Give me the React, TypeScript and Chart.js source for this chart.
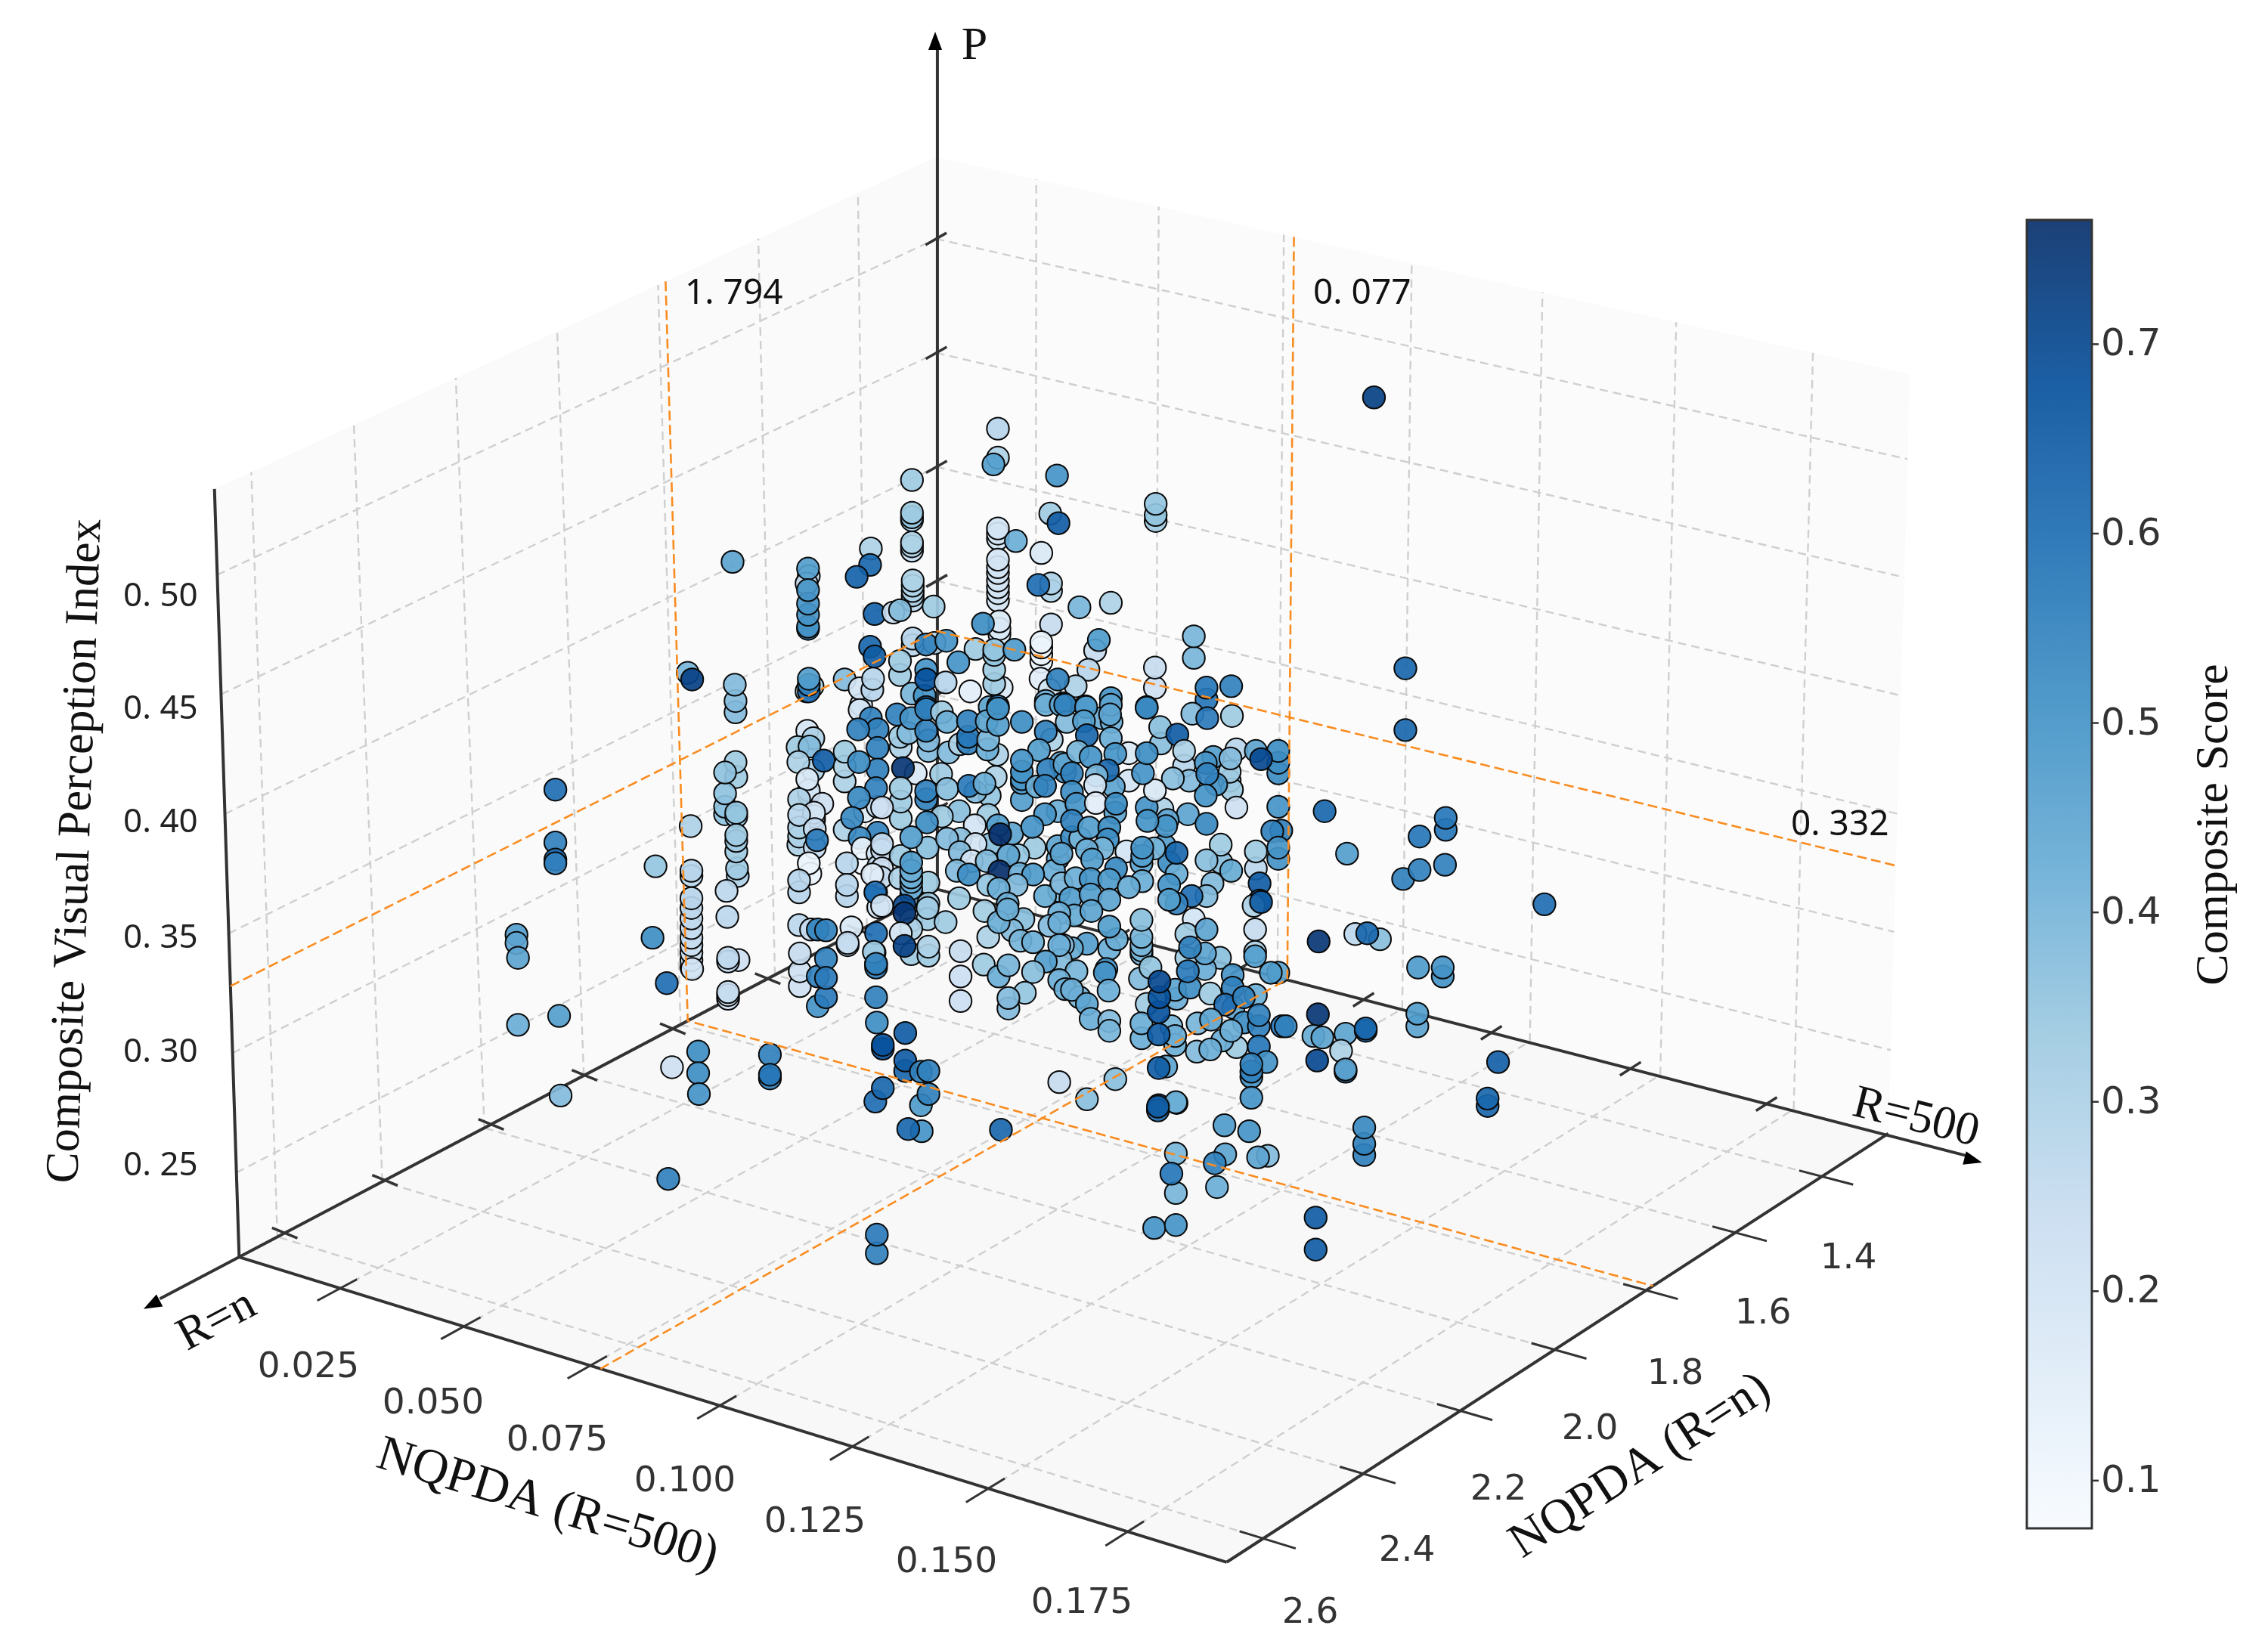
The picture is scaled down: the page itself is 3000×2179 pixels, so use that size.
import React, { useEffect, useRef } from "react";
import { Chart, registerables } from "chart.js";

Chart.register(...registerables);

// Tick values of the three data axes and of the colour bar
const xTicks = [0.025, 0.05, 0.075, 0.1, 0.125, 0.15, 0.175];
const yTicks = [1.4, 1.6, 1.8, 2.0, 2.2, 2.4, 2.6];
const zTicks = [0.25, 0.3, 0.35, 0.4, 0.45, 0.5];
const scoreTicks = [0.1, 0.2, 0.3, 0.4, 0.5, 0.6, 0.7];
const xRange = [0.0041, 0.1924];
const yRange = [1.243, 2.6716];
const zRange = [0.2147, 0.5359];
const scoreRange = [0.0748, 0.7656];
const medians = { x: 0.077, y: 1.785, z: 0.328 };

// Projected marks, [across, down, composite score] on the view plane of the 3D scene
const upperLeft: number[][] = [
  [726,1044,.6],[726,1115,.55],[726,1138,.6],[726,1143,.55],[674,1239,.47],[674,1250,.45],[676,1270,.45],[676,1360,.42],[731,1348,.47],[733,1455,.38],
  [860,1147,.35],[856,1243,.52],[963,738,.45],[903,887,.4],[909,896,.72],
  [1065,757,.25],[1062,767,.25],[1064,747,.47],[1064,828,.55],[1064,825,.5],[1064,809,.5],[1064,794,.5],[1064,776,.5],
  [967,940,.38],[967,925,.38],[966,903,.38],[1062,912,.3],[1070,905,.3],[1065,912,.6],[1065,903,.55],[1065,895,.47],[1113,896,.38],
  [1148,720,.3],[1147,742,.62],[1129,758,.63],[1153,808,.63],[1147,852,.62],[1153,865,.65],
  [1203,682,.33],[1203,678,.35],[1203,672,.33],[1203,628,.33],[1203,723,.25],[1203,717,.3],[1203,712,.3],
  [1204,790,.28],[1204,783,.3],[1204,777,.3],[1204,770,.3],[1204,763,.3],[1178,806,.25],[1187,803,.38],[1232,798,.33],
  [1204,850,.28],[1204,841,.28],[1233,847,.28],[1222,849,.55],[1249,844,.5],[1288,855,.33],[1265,873,.5],
  [1187,890,.33],[1187,871,.33],[1135,930,.2],[1133,908,.2],[1150,910,.28],[1151,895,.28],
  [1222,883,.5],[1203,915,.4],[1220,918,.5],[1222,896,.68],[1222,933,.65],[1248,900,.28],[1281,912,.15],
];
const upperMiddle: number[][] = [
  [1318,559,.28],[1318,598,.3],[1312,607,.47],[1397,622,.5],[1388,673,.33],[1399,686,.65],
  [1318,707,.2],[1318,700,.2],[1318,693,.2],[1342,710,.42],
  [1318,790,.2],[1318,780,.2],[1318,772,.2],[1318,763,.2],[1318,753,.2],[1318,745,.2],[1318,735,.2],
  [1376,726,.18],[1389,777,.3],[1389,767,.3],[1372,769,.6],[1427,799,.4],[1469,793,.3],[1389,822,.25],
  [1320,835,.18],[1320,828,.18],[1320,818,.18],[1298,821,.52],
  [1376,872,.12],[1376,862,.12],[1376,853,.12],[1376,846,.12],[1448,857,.25],[1453,843,.48],
  [1323,907,.18],[1313,902,.33],[1313,883,.33],[1313,863,.35],[1313,856,.35],[1340,856,.48],
  [1439,883,.28],[1375,895,.15],[1387,910,.2],[1422,905,.3],[1398,896,.55],
  [1528,907,.22],[1528,880,.25],[1580,867,.4],[1580,838,.4],[1597,923,.58],[1597,907,.58],[1630,905,.55],
  [1307,933,.45],[1318,932,.58],[1382,925,.42],[1405,928,.5],[1435,932,.5],[1469,921,.5],[1517,933,.55],
  [1529,683,.33],[1529,675,.35],[1529,660,.35],[1821,517,.72],[1863,881,.62],[1863,964,.62],
  [1755,1073,.62],[1785,1130,.47],[1917,1098,.58],[1917,1082,.58],[1882,1107,.58],[1916,1145,.55],[1860,1164,.55],[1882,1152,.55],[2049,1198,.6],
];
const westColumns: number[][] = [
  [907,1093,.3],[908,1160,.28],[908,1153,.28],[908,1283,.22],[908,1273,.22],[908,1263,.23],[908,1253,.23],[908,1243,.25],[908,1230,.25],[908,1217,.26],[908,1203,.27],[908,1190,.28],
  [968,1027,.33],[967,1007,.33],[953,1077,.36],[953,1067,.36],[953,1049,.36],[953,1021,.36],[968,1080,.33],[968,1075,.35],
  [970,1160,.3],[969,1150,.33],[968,1127,.33],[968,1113,.33],[968,1105,.33],[955,1180,.27],[956,1215,.27],[971,1273,.22],[957,1275,.26],[957,1270,.26],
  [957,1325,.22],[957,1320,.23],[957,1316,.25],
  [1063,965,.2],[1071,975,.3],[1050,987,.33],[1066,986,.38],[1071,1018,.3],[1051,1007,.3],[1085,1005,.65],
  [1065,1050,.2],[1065,1045,.2],[1063,1030,.18],[1052,1057,.3],[1083,1063,.22],[1072,1085,.2],[1072,1080,.2],[1072,1075,.2],
  [1051,1118,.3],[1052,1107,.3],[1052,1095,.3],[1052,1078,.28],[1073,1122,.25],[1073,1097,.25],[1076,1112,.57],
  [1067,1157,.12],[1065,1143,.12],[1052,1182,.28],[1052,1166,.28],
  [1133,937,.2],[1113,1033,.3],[1113,1013,.3],[1113,993,.33],[1148,948,.55],[1157,963,.55],[1131,963,.55],[1157,988,.55],[1157,1017,.55],[1132,1007,.52],
  [1140,1073,.15],[1157,1067,.25],[1155,1042,.55],[1132,1055,.53],[1113,1098,.3],[1123,1082,.53],[1157,1102,.55],[1133,1109,.53],
  [1137,1143,.1],[1137,1123,.12],[1157,1130,.2],[1158,1147,.25],[1153,1158,.15],[1116,1143,.28],[1116,1187,.28],[1116,1172,.28],[1158,1202,.2],[1155,1182,.58],
  [1052,1226,.27],[1068,1232,.25],[1077,1232,.55],[1088,1233,.55],[1122,1229,.18],[1117,1253,.25],[1117,1250,.25],
  [1053,1308,.22],[1053,1288,.22],[1053,1264,.25],[1077,1295,.55],[1088,1271,.55],[1077,1335,.5],[1088,1323,.57],[1088,1297,.57],
  [1153,1263,.33],[1155,1237,.6],[1155,1278,.57],[1155,1283,.55],[1155,1323,.55],
];
const centralBlock: number[][] = [
  [1188,987,.3],[1187,973,.33],[1183,943,.55],[1198,968,.38],[1202,948,.5],[1225,992,.38],[1225,978,.38],[1222,965,.55],[1222,936,.55],
  [1243,940,.33],[1252,994,.38],[1250,953,.42],[1267,983,.3],[1278,982,.55],[1278,973,.58],[1278,952,.55],
  [1317,997,.3],[1304,990,.42],[1305,977,.4],[1303,952,.45],[1318,957,.47],[1318,935,.5],[1350,953,.52],
  [1390,977,.3],[1382,930,.42],[1402,930,.45],[1382,966,.55],[1373,991,.47],
  [1208,1022,.18],[1191,1015,.75],[1188,1083,.33],[1188,1060,.33],[1188,1042,.33],[1242,1023,.33],[1222,1057,.55],[1222,1046,.55],[1250,1043,.37],
  [1315,1027,.3],[1307,1052,.35],[1288,1047,.38],[1279,1039,.57],[1300,1036,.42],
  [1350,1058,.47],[1350,1035,.48],[1350,1030,.5],[1350,1020,.5],[1350,1005,.5],[1408,1020,.5],[1402,1008,.45],[1370,1040,.42],[1385,1017,.55],[1381,1039,.55],
  [1266,1073,.37],[1243,1080,.33],[1223,1088,.52],[1305,1078,.33],[1287,1092,.2],[1163,1068,.22],
  [1163,1125,.25],[1163,1117,.25],[1163,1150,.22],[1188,1133,.33],[1224,1122,.37],[1202,1108,.47],[1268,1110,.37],[1250,1110,.38],
  [1337,1103,.45],[1318,1092,.47],[1308,1117,.37],[1321,1104,.78],[1398,1073,.42],[1381,1077,.5],[1367,1122,.33],[1364,1094,.5],
  [1288,1117,.2],[1267,1128,.38],[1283,1140,.2],[1263,1153,.38],[1279,1158,.52],[1345,1132,.35],[1303,1140,.38],[1332,1132,.45],[1320,1154,.78],
  [1398,1137,.43],[1398,1120,.45],[1393,1153,.42],[1347,1157,.42],[1365,1158,.48],
  [1343,1172,.38],[1305,1172,.35],[1319,1177,.42],[1400,1180,.38],[1381,1187,.43],[1266,1190,.33],[1331,1197,.42],
  [1162,1162,.25],[1150,1158,.15],[1187,1163,.3],[1225,1169,.33],[1202,1185,.42],[1202,1177,.42],[1202,1168,.42],[1202,1162,.42],[1202,1153,.42],[1202,1142,.48],[1154,1182,.6],[1225,1197,.33],[1193,1200,.7],
];
const eastBlock: number[][] = [
  [1410,953,.38],[1408,930,.55],[1457,948,.42],[1470,953,.42],[1469,930,.45],[1468,943,.45],[1436,933,.48],[1433,952,.47],[1469,975,.42],[1437,971,.62],[1517,934,.53],
  [1578,942,.38],[1631,945,.33],[1598,948,.57],[1536,982,.37],[1535,960,.37],[1558,970,.65],[1567,1012,.28],[1567,992,.3],
  [1574,1032,.38],[1552,1029,.37],[1606,1000,.47],[1596,1008,.5],[1637,990,.28],[1628,1032,.33],[1631,1044,.33],[1628,1020,.33],[1629,1002,.38],
  [1663,992,.45],[1693,1022,.52],[1693,1008,.52],[1693,992,.52],[1670,1003,.7],[1610,1037,.5],[1598,1023,.55],[1596,1052,.5],[1637,1068,.22],
  [1693,1067,.5],[1697,1099,.55],[1685,1100,.55],[1693,1137,.5],[1693,1122,.5],[1663,1150,.27],[1663,1127,.33],[1668,1170,.65],[1668,1193,.65],
  [1617,1142,.37],[1616,1118,.33],[1597,1139,.37],[1630,1153,.43],[1605,1170,.38],[1597,1187,.38],[1577,1187,.6],
  [1541,1119,.47],[1547,1142,.52],[1557,1157,.42],[1557,1129,.62],[1547,1172,.5],[1557,1197,.55],[1547,1192,.47],
  [1572,1077,.45],[1597,1090,.53],[1538,1070,.3],[1545,1085,.45],[1543,1093,.5],[1517,1068,.5],[1518,1086,.5],[1528,1045,.18],
  [1493,995,.18],[1493,1032,.2],[1512,1022,.5],[1517,995,.52],[1475,996,.5],[1473,1040,.45],[1465,1018,.62],
  [1407,1010,.45],[1425,993,.4],[1442,1000,.5],[1450,1025,.4],[1448,1038,.2],[1417,1022,.55],[1417,1047,.52],[1423,1063,.5],[1449,1062,.15],[1475,1075,.45],[1476,1063,.52],
  [1417,1108,.52],[1428,1110,.4],[1417,1086,.55],[1440,1095,.47],[1467,1095,.52],[1465,1111,.52],[1490,1127,.2],[1458,1123,.4],[1437,1125,.42],[1444,1138,.47],
  [1527,1123,.4],[1510,1143,.45],[1511,1133,.47],[1511,1122,.5],[1403,1130,.45],[1403,1170,.38],[1476,1150,.53],[1422,1163,.42],[1442,1164,.5],[1467,1165,.48],[1511,1167,.42],[1493,1175,.43],
  [1415,1190,.47],[1442,1185,.47],[1467,1192,.45],
];
const lowerMiddle: number[][] = [
  [1163,1200,.2],[1202,1220,.33],[1224,1218,.33],[1224,1203,.33],[1202,1231,.3],[1193,1210,.75],[1248,1222,.33],[1300,1207,.32],[1352,1218,.37],[1337,1233,.38],[1305,1242,.3],[1319,1222,.42],[1331,1205,.42],[1348,1247,.4],[1365,1249,.42],
  [1420,1213,.43],[1400,1210,.42],[1387,1227,.38],[1400,1223,.42],[1443,1207,.45],[1467,1258,.42],[1477,1245,.42],[1467,1228,.47],[1437,1251,.47],[1417,1257,.43],[1405,1253,.38],
  [1402,1273,.38],[1400,1253,.42],[1382,1275,.47],[1365,1289,.37],[1423,1288,.4],[1400,1300,.42],[1408,1312,.42],[1463,1285,.5],[1461,1290,.5],[1466,1314,.42],[1427,1323,.4],[1417,1313,.42],[1437,1332,.45],[1442,1352,.42],[1467,1355,.38],[1467,1368,.4],
  [1152,1262,.33],[1155,1278,.55],[1188,1237,.2],[1202,1265,.33],[1193,1254,.72],[1225,1267,.33],[1225,1255,.3],
  [1268,1261,.25],[1268,1295,.23],[1268,1328,.23],[1299,1279,.33],[1319,1295,.42],[1332,1280,.4],[1354,1317,.35],[1332,1338,.38],[1332,1324,.38],
  [1156,1357,.52],[1194,1371,.65],[1164,1392,.68],[1164,1387,.68],[1194,1422,.62],[1194,1408,.65],[1215,1423,.55],[1225,1422,.55],[1154,1463,.6],[1164,1445,.62],[1215,1468,.48],[1225,1453,.55],[1216,1503,.5],[1198,1500,.62],[1400,1437,.25],
  [875,1304,.6],[909,1285,.2],[917,1396,.52],[917,1425,.52],[918,1453,.5],[882,1417,.22],[1013,1400,.55],[1013,1432,.55],[1013,1427,.58],[877,1567,.55],[1156,1667,.55],[1156,1642,.57],
];
const lowerEast: number[][] = [
  [1510,1265,.4],[1510,1260,.4],[1510,1253,.4],[1510,1242,.4],[1510,1219,.37],[1508,1298,.38],[1522,1283,.35],
  [1517,1332,.33],[1510,1378,.42],[1510,1358,.42],[1557,1325,.42],[1555,1313,.45],[1550,1362,.4],[1555,1387,.42],[1555,1375,.42],
  [1533,1373,.65],[1533,1343,.68],[1534,1323,.68],[1534,1302,.7],
  [1580,1218,.2],[1570,1238,.33],[1597,1232,.45],[1570,1270,.33],[1615,1270,.37],[1595,1285,.42],[1595,1264,.45],[1575,1310,.52],[1575,1256,.55],[1572,1288,.57],[1602,1318,.33],
  [1660,1200,.3],[1670,1195,.65],[1662,1232,.25],[1662,1262,.3],[1662,1268,.47],[1693,1290,.45],[1683,1290,.48],
  [1632,1293,.5],[1663,1320,.42],[1632,1310,.55],[1633,1337,.45],[1622,1333,.6],[1647,1323,.55],
  [1585,1358,.4],[1603,1353,.45],[1647,1357,.52],[1667,1362,.55],[1667,1347,.55],[1698,1362,.58],[1637,1390,.33],[1618,1381,.42],[1630,1368,.42],[1584,1396,.38],[1602,1393,.42],[1667,1389,.58],
  [1677,1410,.5],[1657,1430,.5],[1657,1423,.55],[1657,1413,.55],[1657,1458,.5],
  [1543,1416,.45],[1533,1418,.65],[1475,1433,.37],[1437,1460,.37],[1557,1465,.45],[1533,1468,.62],
  [1322,1501,.62],[1556,1464,.42],[1532,1475,.6],[1532,1470,.65],[1621,1495,.48],[1654,1503,.5],[1622,1534,.45],[1608,1546,.55],[1611,1578,.42],[1679,1536,.38],[1666,1538,.45],
  [1556,1533,.4],[1556,1586,.4],[1550,1560,.58],[1527,1633,.5],[1556,1629,.5],[1743,1619,.65],[1743,1662,.65],
  [1747,1248,.75],[1796,1238,.27],[1829,1245,.37],[1812,1237,.62],[1880,1283,.48],[1913,1295,.5],[1913,1283,.5],[1879,1362,.45],[1879,1345,.47],
  [1746,1346,.75],[1703,1362,.55],[1740,1375,.43],[1752,1377,.45],[1783,1372,.45],[1810,1368,.65],[1810,1365,.62],[1777,1395,.3],[1745,1408,.7],[1783,1423,.62],[1783,1420,.45],
  [1987,1410,.64],[1973,1469,.62],[1973,1459,.62],[1808,1535,.55],[1808,1520,.55],[1808,1498,.53],
];
const scatterMarks = [...upperLeft, ...upperMiddle, ...westColumns, ...centralBlock, ...eastBlock, ...lowerMiddle, ...lowerEast];

// Tick positions on the two extra arrowed axes, as distance across the view
const nAxisTicks = [364, 498, 640, 765, 883, 1010, 1133];
const r500AxisTicks = [1330, 1480, 1643, 1807, 1978, 2164, 2346];

const BLUES = ["#f7fbff", "#deebf7", "#c6dbef", "#9ecae1", "#6baed6", "#4292c6", "#2171b5", "#08519c", "#08306b"];

function hexRgb(h: string) {
  return [parseInt(h.slice(1, 3), 16), parseInt(h.slice(3, 5), 16), parseInt(h.slice(5, 7), 16)];
}
function blues(t: number, alpha = 1) {
  const k = Math.max(0, Math.min(0.9999, t)) * 8;
  const i = Math.floor(k);
  const a = hexRgb(BLUES[i]);
  const b = hexRgb(BLUES[i + 1]);
  const f = k - i;
  const c = a.map((v, j) => Math.round(v + (b[j] - v) * f));
  return `rgba(${c[0]},${c[1]},${c[2]},${alpha})`;
}
const scoreT = (s: number) => (s - scoreRange[0]) / (scoreRange[1] - scoreRange[0]);

type P = [number, number];
function homography(p0: P, p1: P, p2: P, p3: P) {
  const dx1 = p1[0] - p2[0], dx2 = p3[0] - p2[0], sx = p0[0] - p1[0] + p2[0] - p3[0];
  const dy1 = p1[1] - p2[1], dy2 = p3[1] - p2[1], sy = p0[1] - p1[1] + p2[1] - p3[1];
  const den = dx1 * dy2 - dx2 * dy1;
  const g = (sx * dy2 - dx2 * sy) / den;
  const h = (dx1 * sy - sx * dy1) / den;
  const a = p1[0] - p0[0] + g * p1[0], b = p3[0] - p0[0] + h * p3[0];
  const d = p1[1] - p0[1] + g * p1[1], e = p3[1] - p0[1] + h * p3[1];
  return (s: number, t: number): P => {
    const w = g * s + h * t + 1;
    return [(a * s + b * t + p0[0]) / w, (d * s + e * t + p0[1]) / w];
  };
}
const BACK: P = [1237, 1178], RIGHT: P = [2509, 1506], FRONT: P = [1624, 2082], LEFT: P = [303, 1672];
const BACK_T: P = [1235, 194], RIGHT_T: P = [2538, 486], FRONT_T: P = [1516, 978], LEFT_T: P = [270, 640];
const H0 = homography(BACK, RIGHT, FRONT, LEFT);
const H1 = homography(BACK_T, RIGHT_T, FRONT_T, LEFT_T);
function project(x: number, y: number, z: number) {
  const s = (x - xRange[0]) / (xRange[1] - xRange[0]);
  const t = (y - yRange[0]) / (yRange[1] - yRange[0]);
  const w = (z - zRange[0]) / (zRange[1] - zRange[0]);
  const a = H0(s, t), b = H1(s, t);
  return { x: a[0] + (b[0] - a[0]) * w, y: a[1] + (b[1] - a[1]) * w };
}

const [x0, x1] = xRange, [y0, y1] = yRange, [z0, z1] = zRange;

function lineSet(pts: { x: number; y: number }[], color: string, width: number, dash: number[], order: number) {
  return { type: "line" as const, data: pts, borderColor: color, borderWidth: width, borderDash: dash, pointRadius: 0, showLine: true, fill: false, order, clip: false as any, tension: 0, borderCapStyle: "butt" as const };
}

const GRID = "#cfcfcf";
const ORANGE = "#f98c20";
const AXIS = "#333333";

function buildDatasets() {
  const out: any[] = [];
  const grid = (pts: { x: number; y: number }[]) => out.push(lineSet(pts, GRID, 2.4, [11, 7], 5));
  for (const x of xTicks) {
    grid([project(x, y1, z0), project(x, y0, z0)]);
    grid([project(x, y0, z0), project(x, y0, z1)]);
  }
  for (const y of yTicks) {
    grid([project(x1, y, z0), project(x0, y, z0)]);
    grid([project(x0, y, z0), project(x0, y, z1)]);
  }
  for (const z of zTicks) {
    grid([project(x0, y1, z), project(x0, y0, z)]);
    grid([project(x0, y0, z), project(x1, y0, z)]);
  }
  const axis = (pts: { x: number; y: number }[], w = 4) => out.push(lineSet(pts, AXIS, w, [], 4));
  axis([project(x0, y1, z0), project(x0, y1, z1)]);
  axis([project(x0, y1, z0), project(x1, y1, z0)]);
  axis([project(x1, y1, z0), project(x1, y0, z0)]);
  axis([{ x: BACK[0], y: BACK[1] }, { x: 197, y: 1728 }], 4);
  axis([{ x: BACK[0], y: BACK[1] }, { x: 2614, y: 1536 }], 4);
  axis([{ x: BACK[0], y: BACK[1] }, { x: 1237, y: 50 }], 4);
  const ex = (x1 - x0), ey = (y1 - y0);
  for (const x of xTicks) axis([project(x, y1 - 0.022 * ey, z0), project(x, y1 + 0.03 * ey, z0)], 3);
  for (const y of yTicks) axis([project(x1 - 0.022 * ex, y, z0), project(x1 + 0.03 * ex, y, z0)], 3);
  for (const z of zTicks) {
    const p = project(x0, y0, z);
    axis([{ x: p.x - 14, y: p.y + 8 }, { x: p.x + 14, y: p.y - 8 }], 3.5);
  }
  for (const tx of nAxisTicks) {
    const ty = BACK[1] + 0.5288 * (BACK[0] - tx);
    axis([{ x: tx - 17, y: ty - 7 }, { x: tx + 17, y: ty + 7 }], 3.5);
  }
  for (const tx of r500AxisTicks) {
    const ty = BACK[1] + 0.26 * (tx - BACK[0]);
    axis([{ x: tx - 14, y: ty + 9 }, { x: tx + 14, y: ty - 9 }], 3.5);
  }
  out.push({
    type: "scatter",
    data: scatterMarks.map((m) => ({ x: m[0], y: m[1] })),
    pointBackgroundColor: scatterMarks.map((m) => blues(scoreT(m[2]), 0.92)),
    pointBorderColor: "#0a0a0a",
    pointBorderWidth: 2,
    pointRadius: 14.7,
    showLine: false,
    order: 2,
    clip: false,
  });
  const med = (pts: { x: number; y: number }[]) => out.push(lineSet(pts, ORANGE, 2.6, [13, 6], 1));
  med([project(x0, y1, medians.z), project(x0, y0, medians.z), project(x1, y0, medians.z)]);
  med([project(x0, medians.y, z1), project(x0, medians.y, z0), project(x1, medians.y, z0)]);
  med([project(medians.x, y0, z1), project(medians.x, y0, z0), project(medians.x, y1, z0)]);
  return out;
}

const SANS = '"DejaVu Sans"';
const SERIF = '"Liberation Serif"';
const xTickLabels = ["0.025", "0.050", "0.075", "0.100", "0.125", "0.150", "0.175"];
const yTickLabels = ["1.4", "1.6", "1.8", "2.0", "2.2", "2.4", "2.6"];
const zTickLabels = ["0. 25", "0. 30", "0. 35", "0. 40", "0. 45", "0. 50"];
const scoreTickLabels = ["0.1", "0.2", "0.3", "0.4", "0.5", "0.6", "0.7"];

const sceneDecor = {
  id: "sceneDecor",
  beforeDraw(chart: any) {
    const c = chart.ctx;
    c.save();
    c.fillStyle = "#ffffff";
    c.fillRect(0, 0, 3000, 2179);
    c.restore();
  },
  beforeDatasetsDraw(chart: any) {
    const c = chart.ctx;
    const sx = chart.scales.x, sy = chart.scales.y;
    const poly = (pts: { x: number; y: number }[], fill: string) => {
      c.beginPath();
      pts.forEach((p, i) => (i ? c.lineTo(sx.getPixelForValue(p.x), sy.getPixelForValue(p.y)) : c.moveTo(sx.getPixelForValue(p.x), sy.getPixelForValue(p.y))));
      c.closePath();
      c.fillStyle = fill;
      c.fill();
    };
    c.save();
    poly([project(x0, y0, z0), project(x0, y1, z0), project(x0, y1, z1), project(x0, y0, z1)], "#fafafa");
    poly([project(x0, y0, z0), project(x1, y0, z0), project(x1, y0, z1), project(x0, y0, z1)], "#fbfbfb");
    poly([project(x0, y0, z0), project(x1, y0, z0), project(x1, y1, z0), project(x0, y1, z0)], "#f8f8f8");
    c.restore();
  },
  afterDatasetsDraw(chart: any) {
    const c = chart.ctx;
    const text = (s: string, x: number, y: number, font: string, color: string, rot = 0, align: CanvasTextAlign = "center") => {
      c.save();
      c.translate(x, y);
      c.rotate((rot * Math.PI) / 180);
      c.font = font;
      c.fillStyle = color;
      c.textAlign = align;
      c.textBaseline = "middle";
      c.fillText(s, 0, 0);
      c.restore();
    };
    const head = (x: number, y: number, ang: number) => {
      c.save();
      c.translate(x, y);
      c.rotate(ang);
      c.beginPath();
      c.moveTo(8, 0);
      c.lineTo(-16, -9);
      c.lineTo(-16, 9);
      c.closePath();
      c.fillStyle = "#000";
      c.fill();
      c.restore();
    };
    head(1237, 50, -Math.PI / 2);
    head(197, 1728, Math.atan2(550, -1040));
    head(2614, 1536, Math.atan2(358, 1377));

    xTickLabels.forEach((s, i) => text(s, [408, 573, 737, 906, 1078, 1252, 1431][i], [1810, 1858, 1907, 1961, 2015, 2068, 2122][i], `47px ${SANS}`, "#333"));
    yTickLabels.forEach((s, i) => text(s, [2445, 2332, 2216, 2103, 1982, 1861, 1733][i], [1666, 1739, 1819, 1892, 1972, 2053, 2135][i], `47px ${SANS}`, "#333"));
    zTickLabels.forEach((s, i) => text(s, 163, [1542, 1392, 1241, 1088, 938, 789][i], `44px "Noto Sans"`, "#222", 0, "left"));
    text("1. 794", 906, 389, `46px "Noto Sans"`, "#111", 0, "left");
    text("0. 077", 1737, 389, `46px "Noto Sans"`, "#111", 0, "left");
    text("0. 332", 2369, 1092, `46px "Noto Sans"`, "#111", 0, "left");
    text("P", 1289, 62, `62px ${SERIF}`, "#111");
    text("R=n", 287, 1748, `62px ${SERIF}`, "#111", -28);
    text("R=500", 2534, 1480, `62px ${SERIF}`, "#111", 14);
    text("Composite Visual Perception Index", 101, 1126, `62px ${SERIF}`, "#111", -88);
    text("NQPDA (R=500)", 724, 1992, `66px ${SERIF}`, "#111", 17);
    text("NQPDA (R=n)", 2170, 1940, `65px ${SERIF}`, "#111", -33);
    text("Composite Score", 2930, 1091, `62px ${SERIF}`, "#111", -90);

    // colour bar
    const bx = 2681, bw = 86, bTop = 291, bBot = 2022;
    const g = c.createLinearGradient(0, bBot, 0, bTop);
    for (let i = 0; i <= 32; i++) g.addColorStop(i / 32, blues(i / 32, 0.92));
    c.save();
    c.fillStyle = g;
    c.fillRect(bx, bTop, bw, bBot - bTop);
    c.strokeStyle = "#333";
    c.lineWidth = 3;
    c.strokeRect(bx, bTop, bw, bBot - bTop);
    scoreTicks.forEach((s, i) => {
      const y = bBot - ((s - scoreRange[0]) / (scoreRange[1] - scoreRange[0])) * (bBot - bTop);
      c.beginPath();
      c.moveTo(bx + bw, y);
      c.lineTo(bx + bw + 9, y);
      c.strokeStyle = "#333";
      c.lineWidth = 2.5;
      c.stroke();
      text(scoreTickLabels[i], 2779, y + 2, `50px ${SANS}`, "#333", 0, "left");
    });
    c.restore();
  },
};

export default function App() {
  const ref = useRef<HTMLCanvasElement>(null);
  useEffect(() => {
    document.body.style.margin = "0";
    const chart = new Chart(ref.current as HTMLCanvasElement, {
      type: "scatter",
      data: { datasets: buildDatasets() },
      options: {
        responsive: false,
        animation: false,
        devicePixelRatio: 1,
        layout: { padding: 0 },
        plugins: { legend: { display: false }, tooltip: { enabled: false } },
        scales: {
          x: { type: "linear", min: 0, max: 3000, display: false },
          y: { type: "linear", min: 0, max: 2179, reverse: true, display: false },
        },
      },
      plugins: [sceneDecor],
    } as any);
    return () => chart.destroy();
  }, []);
  return <canvas ref={ref} width={3000} height={2179} style={{ display: "block" }} />;
}
